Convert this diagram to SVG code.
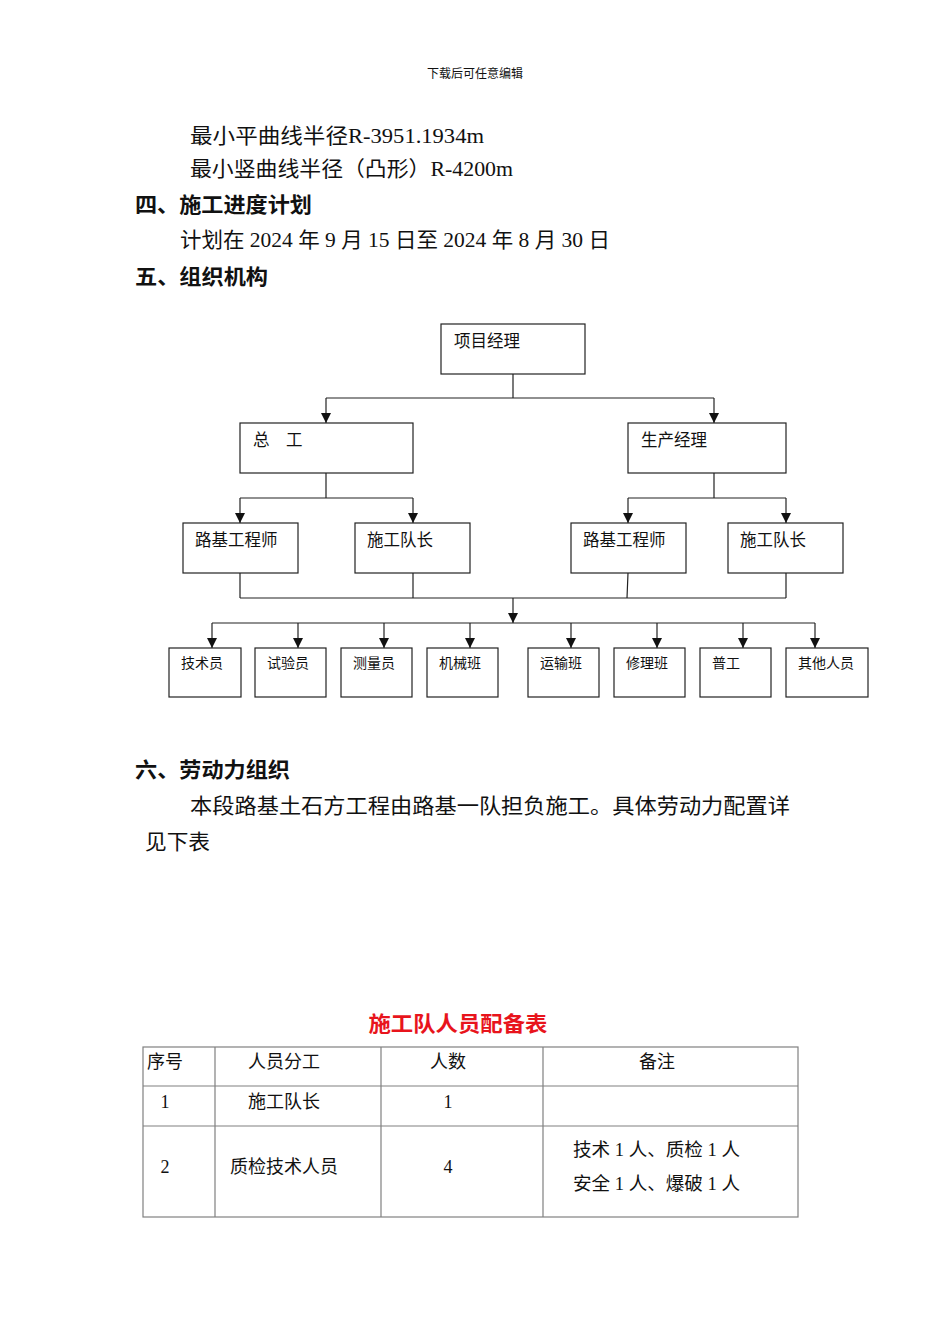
<svg xmlns="http://www.w3.org/2000/svg" width="950" height="1344" viewBox="0 0 950 1344">
<style>
text{font-family:"Liberation Serif","Noto Sans CJK SC",serif;fill:#111}
.body{font-size:21px}
.h{font-size:21px;font-weight:bold}
.bx{fill:#fff;stroke:#222;stroke-width:1.2}
.lb{font-size:16.5px}
.lbs{font-size:14px}
.ln{stroke:#222;stroke-width:1.2;fill:none}
.tb{stroke:#808080;stroke-width:1.2;fill:none}
.td{font-size:18px}
</style>
<defs>
<marker id="ar" viewBox="0 0 10 10" refX="10" refY="5" markerWidth="10" markerHeight="10" markerUnits="userSpaceOnUse" orient="auto">
<path d="M0,0 L10,5 L0,10 z" fill="#111"/>
</marker>
</defs>
<rect width="950" height="1344" fill="#fff"/>
<text x="475" y="78" font-size="12" text-anchor="middle">下载后可任意编辑</text>
<text class="body" x="190" y="143" textLength="294" lengthAdjust="spacingAndGlyphs">最小平曲线半径R-3951.1934m</text>
<text class="body" x="190" y="176" textLength="323" lengthAdjust="spacingAndGlyphs">最小竖曲线半径（凸形）R-4200m</text>
<text class="h" x="135" y="212" textLength="177" lengthAdjust="spacingAndGlyphs">四、施工进度计划</text>
<text class="body" x="180" y="247" textLength="430" lengthAdjust="spacingAndGlyphs">计划在 2024 年 9 月 15 日至 2024 年 8 月 30 日</text>
<text class="h" x="135" y="284" textLength="133" lengthAdjust="spacingAndGlyphs">五、组织机构</text>

<g id="connectors">
<path class="ln" d="M513,374 V398 M326,398 H714"/>
<path class="ln" d="M326,398 V423" marker-end="url(#ar)"/>
<path class="ln" d="M714,398 V423" marker-end="url(#ar)"/>
<path class="ln" d="M326,473 V498 M240,498 H413"/>
<path class="ln" d="M240,498 V523" marker-end="url(#ar)"/>
<path class="ln" d="M413,498 V523" marker-end="url(#ar)"/>
<path class="ln" d="M714,473 V498 M628,498 H786"/>
<path class="ln" d="M628,498 V523" marker-end="url(#ar)"/>
<path class="ln" d="M786,498 V523" marker-end="url(#ar)"/>
<path class="ln" d="M240,573 V598 M413,573 V598 M628,573 L627,598 M786,573 V598 M240,598 H786"/>
<path class="ln" d="M513,598 V623" marker-end="url(#ar)"/>
<path class="ln" d="M212,623 H815"/>
<path class="ln" d="M212,623 V648" marker-end="url(#ar)"/>
<path class="ln" d="M298,623 V648" marker-end="url(#ar)"/>
<path class="ln" d="M384,623 V648" marker-end="url(#ar)"/>
<path class="ln" d="M470,623 V648" marker-end="url(#ar)"/>
<path class="ln" d="M571,623 V648" marker-end="url(#ar)"/>
<path class="ln" d="M657,623 V648" marker-end="url(#ar)"/>
<path class="ln" d="M743,623 V648" marker-end="url(#ar)"/>
<path class="ln" d="M815,623 V648" marker-end="url(#ar)"/>
</g>

<g id="n-pm"><rect class="bx" x="441" y="324" width="144" height="50"/><text class="lb" x="454" y="347">项目经理</text></g>
<g id="n-zg"><rect class="bx" x="240" y="423" width="173" height="50"/><text class="lb" x="253" y="446">总　工</text></g>
<g id="n-sc"><rect class="bx" x="628" y="423" width="158" height="50"/><text class="lb" x="641" y="446">生产经理</text></g>
<g id="n-l1"><rect class="bx" x="183" y="523" width="115" height="50"/><text class="lb" x="195" y="546">路基工程师</text></g>
<g id="n-d1"><rect class="bx" x="355" y="523" width="115" height="50"/><text class="lb" x="367" y="546">施工队长</text></g>
<g id="n-l2"><rect class="bx" x="571" y="523" width="115" height="50"/><text class="lb" x="583" y="546">路基工程师</text></g>
<g id="n-d2"><rect class="bx" x="728" y="523" width="115" height="50"/><text class="lb" x="740" y="546">施工队长</text></g>
<g id="n-b1"><rect class="bx" x="169" y="648" width="72" height="49"/><text class="lbs" x="181" y="668">技术员</text></g>
<g id="n-b2"><rect class="bx" x="255" y="648" width="71" height="49"/><text class="lbs" x="267" y="668">试验员</text></g>
<g id="n-b3"><rect class="bx" x="341" y="648" width="71" height="49"/><text class="lbs" x="353" y="668">测量员</text></g>
<g id="n-b4"><rect class="bx" x="427" y="648" width="71" height="49"/><text class="lbs" x="439" y="668">机械班</text></g>
<g id="n-b5"><rect class="bx" x="528" y="648" width="71" height="49"/><text class="lbs" x="540" y="668">运输班</text></g>
<g id="n-b6"><rect class="bx" x="614" y="648" width="71" height="49"/><text class="lbs" x="626" y="668">修理班</text></g>
<g id="n-b7"><rect class="bx" x="700" y="648" width="71" height="49"/><text class="lbs" x="712" y="668">普工</text></g>
<g id="n-b8"><rect class="bx" x="786" y="648" width="82" height="49"/><text class="lbs" x="798" y="668">其他人员</text></g>

<text class="h" x="135" y="777" textLength="155" lengthAdjust="spacingAndGlyphs">六、劳动力组织</text>
<text class="body" x="190" y="813" textLength="600" lengthAdjust="spacingAndGlyphs">本段路基土石方工程由路基一队担负施工。具体劳动力配置详</text>
<text class="body" x="145" y="849" textLength="65" lengthAdjust="spacingAndGlyphs">见下表</text>

<text x="458" y="1031" font-size="21" font-weight="bold" text-anchor="middle" style="fill:#e8141c" textLength="179" lengthAdjust="spacingAndGlyphs">施工队人员配备表</text>
<g id="table">
<rect class="tb" x="143" y="1047" width="655" height="170"/>
<path class="tb" d="M215,1047 V1217 M381,1047 V1217 M543,1047 V1217 M143,1086 H798 M143,1126 H798"/>
<text class="td" x="147" y="1068">序号</text>
<text class="td" x="284" y="1068" text-anchor="middle">人员分工</text>
<text class="td" x="448" y="1068" text-anchor="middle">人数</text>
<text class="td" x="657" y="1068" text-anchor="middle">备注</text>
<text class="td" x="165" y="1108" text-anchor="middle">1</text>
<text class="td" x="284" y="1108" text-anchor="middle">施工队长</text>
<text class="td" x="448" y="1108" text-anchor="middle">1</text>
<text class="td" x="165" y="1173" text-anchor="middle">2</text>
<text class="td" x="284" y="1173" text-anchor="middle">质检技术人员</text>
<text class="td" x="448" y="1173" text-anchor="middle">4</text>
<text class="td" x="573" y="1156" textLength="167" lengthAdjust="spacingAndGlyphs">技术 1 人、质检 1 人</text>
<text class="td" x="573" y="1190" textLength="167" lengthAdjust="spacingAndGlyphs">安全 1 人、爆破 1 人</text>
</g>
</svg>
